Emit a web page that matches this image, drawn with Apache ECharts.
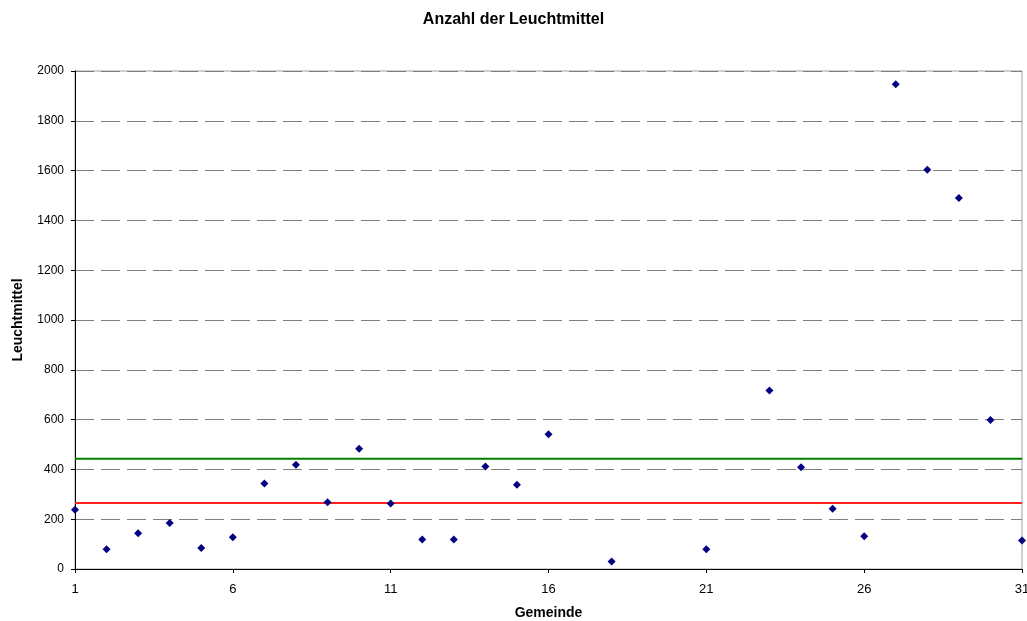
<!DOCTYPE html>
<html>
<head>
<meta charset="utf-8">
<script src="https://cdn.jsdelivr.net/npm/echarts@6/dist/echarts.min.js"></script>
<style>html,body{margin:0;padding:0;background:#fff}#c{width:1027px;height:621px}</style>
</head>
<body>
<div id="c"></div>
<script>
var gemeinde = ['1','2','3','4','5','6','7','8','9','10','11','12','13','14','15','16','17','18','19','20','21','22','23','24','25','26','27','28','29','30','31'];
var leuchtmittel = [238,79,144,185,84,128,343,419,268,483,263,118,118,412,338,541,null,30,null,null,79,null,717,409,242,132,1947,1603,1490,598,114];
var mittelwertGruen = 443;
var mittelwertRot = 265;
var yTicks = [0,200,400,600,800,1000,1200,1400,1600,1800,2000];

var chart = echarts.init(document.getElementById('c'), null, {renderer:'canvas'});
var font = 'Liberation Sans, Arial, sans-serif';
chart.setOption({
  animation:false,
  backgroundColor:'#ffffff',
  title:{text:'Anzahl der Leuchtmittel',left:'center',top:7,
    textStyle:{fontFamily:font,fontSize:16,fontWeight:'bold',color:'#000'}},
  grid:{left:75,right:5,top:71,bottom:52,show:true,borderColor:'#a0a0a0',borderWidth:1,backgroundColor:'#fff',
    containLabel:false,outerBoundsMode:'none'},
  xAxis:{type:'category',data:gemeinde,boundaryGap:false,
    name:'Gemeinde',nameLocation:'middle',nameGap:37,
    nameTextStyle:{fontFamily:font,fontSize:14,fontWeight:'bold',color:'#000'},
    axisLine:{lineStyle:{color:'#000',width:1}},
    axisTick:{show:true,interval:4,length:4,lineStyle:{color:'#000'}},
    axisLabel:{interval:4,fontFamily:font,fontSize:13,color:'#000',margin:14},
    splitLine:{show:false}},
  yAxis:{type:'value',min:yTicks[0],max:yTicks[yTicks.length-1],interval:200,
    name:'Leuchtmittel',nameLocation:'middle',nameGap:50,
    nameTextStyle:{fontFamily:font,fontSize:14,fontWeight:'bold',color:'#000'},
    axisLine:{show:true,lineStyle:{color:'#000',width:1}},
    axisTick:{show:true,length:4,lineStyle:{color:'#000'}},
    axisLabel:{fontFamily:font,fontSize:12,color:'#000',margin:11,formatter:function(v){return String(v);}},
    splitLine:{show:true,lineStyle:{color:'#808080',width:1,type:[19,7]}}},
  series:[
    {type:'line',data:gemeinde.map(function(){return mittelwertGruen;}),symbol:'none',
      lineStyle:{color:'#008000',width:2},z:3},
    {type:'line',data:gemeinde.map(function(){return mittelwertRot;}),symbol:'none',
      lineStyle:{color:'#ff2020',width:2},z:3},
    {type:'scatter',data:leuchtmittel,symbol:'diamond',symbolSize:8,
      itemStyle:{color:'#000080',opacity:1},z:5}
  ]
});
</script>
</body>
</html>
